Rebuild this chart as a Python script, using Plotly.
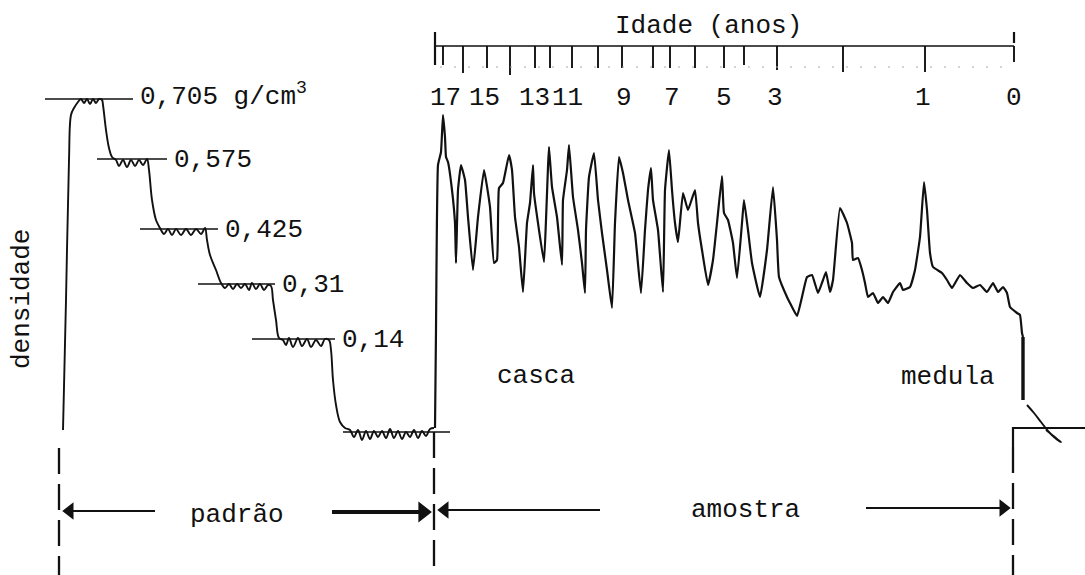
import plotly.graph_objects as go

W, H = 1085, 575
FONT = "Liberation Mono, Courier New, monospace"
INK = "#111111"

# ---------------- data ----------------
# calibration standards (density, g/cm3) and their plotted level on the densitogram
std_labels = ["0,705 g/cm<sup>3</sup>", "0,575", "0,425", "0,31", "0,14"]
std_level = [99, 159, 229, 284, 339]
std_x0 = [45, 97, 140, 198, 252]
std_x1 = [133, 167, 218, 275, 335]
base_level = 432
base_x = [343, 450]

# densitometer trace over the calibration wedge ("padrão")
std_trace_x = [63, 66, 69, 71, 74, 78, 81, 84, 87, 90, 93, 96, 99, 102, 103, 106, 109, 112,
               116, 119, 123, 127, 131, 135, 139, 143, 147, 149, 152, 156, 160,
               164, 168, 172, 176, 181, 186, 191, 196, 201, 205, 207, 210, 216, 221,
               225, 229, 233, 237, 241, 245, 249, 252, 256, 260, 264, 268, 271, 273, 276, 279,
               283, 286, 289, 293, 298, 302, 307, 311, 316, 321, 325, 329, 331, 333, 336, 340, 345, 350,
               354, 358, 362, 366, 370, 374, 378, 382, 386, 390, 394, 398, 402, 406, 410, 414, 418,
               422, 426, 430, 434]
std_trace_y = [430, 300, 160, 115, 108, 102, 99, 103, 99, 104, 99, 103, 99, 100, 105, 130, 148, 157,
               160, 166, 160, 167, 160, 166, 160, 165, 159, 170, 200, 220, 228,
               234, 229, 235, 229, 235, 229, 235, 229, 234, 228, 240, 255, 270, 283,
               288, 284, 289, 284, 288, 284, 290, 283, 289, 284, 290, 285, 286, 300, 320, 338,
               340, 345, 338, 347, 338, 346, 339, 347, 340, 346, 339, 340, 350, 380, 405, 422, 428, 430,
               437, 430, 440, 431, 439, 431, 437, 431, 438, 429, 438, 431, 439, 432, 437, 430, 438,
               431, 436, 429, 428]

# densitometer trace over the wood sample ("amostra"), bark -> pith
smp_x = [435, 436, 438, 441, 443, 445, 446, 448, 452, 455, 456, 458, 461, 465, 468, 473, 478, 484,
         490, 494, 497, 499, 503, 509, 512, 515, 519, 523, 527, 530, 533, 534, 538, 544, 546, 548,
         549, 552, 557, 562, 563, 567, 569, 573, 578, 582, 585, 586, 589, 594, 598, 602, 607, 612,
         615, 619, 623, 628, 635, 641, 645, 648, 651, 653, 658, 663, 665, 669, 672, 675, 678, 683,
         688, 695, 698, 702, 708, 713, 717, 722, 724, 728, 733, 737, 742, 744, 748, 752, 760, 767,
         773, 777, 779, 787, 790, 797, 802, 807, 812, 818, 823, 826, 830, 833, 840, 847, 852, 853,
         858, 862, 865, 868, 873, 878, 883, 888, 893, 900, 903, 910, 915, 920, 924, 927, 930, 933,
         942, 947, 952, 960, 967, 973, 980, 987, 993, 998, 1003, 1007, 1010, 1017, 1020, 1022, 1023]
smp_y = [428, 330, 165, 152, 115, 137, 157, 162, 190, 223, 263, 190, 165, 180, 217, 270, 217, 170,
         207, 263, 260, 188, 183, 155, 170, 217, 247, 292, 223, 203, 165, 193, 223, 262, 220, 167,
         147, 187, 217, 265, 200, 170, 145, 197, 230, 263, 293, 230, 177, 153, 200, 233, 270, 308,
         223, 157, 173, 200, 233, 293, 230, 190, 168, 200, 230, 292, 190, 150, 190, 223, 242, 193,
         210, 190, 223, 250, 285, 260, 223, 176, 213, 220, 243, 278, 223, 200, 230, 263, 297, 250,
         187, 240, 277, 297, 303, 316, 297, 277, 275, 293, 280, 272, 292, 280, 208, 223, 243, 260,
         258, 270, 283, 297, 293, 303, 297, 303, 292, 283, 290, 287, 270, 237, 182, 210, 253, 267,
         273, 280, 288, 275, 283, 288, 285, 292, 283, 292, 287, 293, 307, 313, 315, 333, 337]
pith_x = [1023, 1023]
pith_y = [337, 400]
tail_x = [1027, 1034, 1041, 1048, 1054, 1059, 1061, 1057, 1051, 1046]
tail_y = [405, 413, 422, 431, 437, 441, 442, 439, 434, 430]
end_x = [1013, 1013, 1085]
end_y = [447, 428, 428]

# age scale (years) along the sample
age_years = list(range(17, -1, -1))
age_pos = [443, 463, 487, 510, 535, 550, 572, 598, 622, 653, 670, 695, 724, 744, 777, 843, 925, 1014]
age_tick_end = [65, 73, 68, 75, 68, 68, 68, 68, 68, 68, 68, 68, 68, 65, 70, 72, 72, 62]
age_label_years = [17, 15, 13, 11, 9, 7, 5, 3, 1, 0]
age_label_pos = [445, 484, 534, 567, 624, 672, 724, 775, 923, 1014]
scale_line_y = 46
scale_start = 435

# section boundaries
padrao_start, boundary, amostra_end = 59, 434, 1013

fig = go.Figure()

def line(x, y, width=1.8, smoothing=0.4, color=INK):
    fig.add_trace(go.Scatter(x=x, y=y, mode="lines", hoverinfo="skip", showlegend=False,
                             line=dict(color=color, width=width, shape="spline",
                                       smoothing=smoothing)))

def straight(x, y, width=1.6, dash=None, color=INK):
    fig.add_trace(go.Scatter(x=x, y=y, mode="lines", hoverinfo="skip", showlegend=False,
                             line=dict(color=color, width=width, dash=dash)))

# calibration reference lines
for x0, x1, lv in zip(std_x0, std_x1, std_level):
    straight([x0, x1], [lv, lv], 1.6)
straight(base_x, [base_level, base_level], 1.6)

# traces
line(std_trace_x, std_trace_y, 1.9, smoothing=1.0)
line(smp_x, smp_y, 2.2, smoothing=0.35)
straight(pith_x, pith_y, 3.4)
line(tail_x, tail_y, 1.9, smoothing=1.0)
straight(end_x, end_y, 2.2)

# age scale
straight([scale_start, age_pos[-1]], [scale_line_y, scale_line_y], 1.7)
straight([scale_start, scale_start], [32, 65], 2.2)
straight([age_pos[-1], age_pos[-1]], [32, 43], 2.2)
tx, ty = [], []
for p, e in zip(age_pos, age_tick_end):
    tx += [p, p, None]
    ty += [scale_line_y, e, None]
straight(tx, ty, 1.9)
straight([440, age_pos[-1] - 6], [67, 67], 1.0, dash="2px,12px", color="#aaaaaa")

# dashed section boundaries
straight([padrao_start, padrao_start], [448, 575], 2.3, dash="26px,10px")
straight([boundary, boundary], [432, 575], 2.3, dash="26px,10px")
straight([amostra_end, amostra_end], [447, 575], 2.3, dash="26px,10px")

# arrows (shaft + filled head)
def arrow(head_x, tail_x, y, width, head_size):
    d = 1 if head_x > tail_x else -1
    straight([tail_x, head_x - d * head_size * 0.6], [y, y], width)
    fig.add_trace(go.Scatter(x=[head_x - d * head_size * 0.45], y=[y], mode="markers",
                             hoverinfo="skip", showlegend=False,
                             marker=dict(symbol="triangle-right" if d > 0 else "triangle-left",
                                         size=head_size, color=INK, line=dict(width=0))))

arrow(padrao_start + 4, 155, 511, 2.2, 15)
arrow(boundary - 3, 332, 512, 4.2, 18)
arrow(boundary + 4, 600, 510, 2.2, 15)
arrow(amostra_end - 3, 866, 508, 2.2, 15)

ann = []
def text(x, y, s, anchor="center", size=26, angle=0):
    ann.append(dict(x=x, y=y, xref="x", yref="y", text=s, showarrow=False, xanchor=anchor,
                    yanchor="middle", textangle=angle,
                    font=dict(family=FONT, size=size, color=INK)))

for lab, x1, lv in zip(std_labels, std_x1, std_level):
    text(x1 + 5, lv + (-4 if "sup" in lab else 1), lab, anchor="left")

for yr, p in zip(age_label_years, age_label_pos):
    text(p, 98, str(yr))
text(708, 26, "Idade (anos)")
text(22, 299, "densidade", angle=-90)
text(536, 376, "casca")
text(948, 377, "medula")
text(237, 515, "padrão")
text(745, 510, "amostra")

fig.update_layout(
    width=W, height=H, margin=dict(l=0, r=0, t=0, b=0),
    paper_bgcolor="white", plot_bgcolor="white",
    xaxis=dict(range=[0, W], visible=False, fixedrange=True),
    yaxis=dict(range=[H, 0], visible=False, fixedrange=True),
    annotations=ann,
)
fig.write_html("out.html")
